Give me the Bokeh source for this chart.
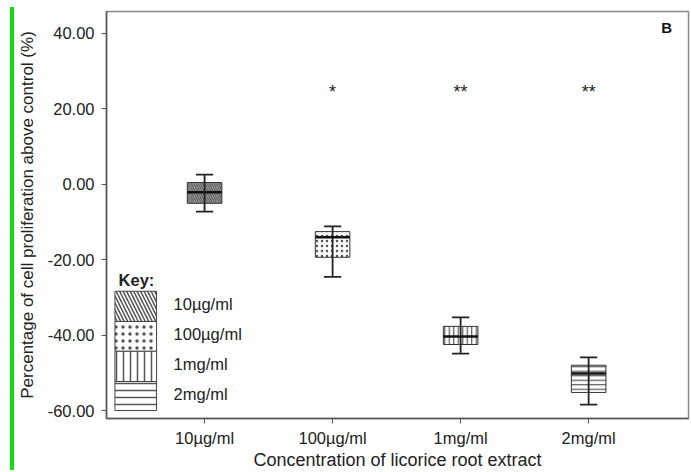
from bokeh.plotting import figure
from bokeh.models import Range1d, FixedTicker, NumeralTickFormatter, Div, ColumnDataSource
from bokeh.layouts import row
from bokeh.core.properties import value
from bokeh.embed import file_html
from bokeh.resources import INLINE

# ---- data ----
categories = ["10\u00b5g/ml", "100\u00b5g/ml", "1mg/ml", "2mg/ml"]
positions = [1, 2, 3, 4]
q1 = [-5.0, -19.3, -42.4, -55.1]
q3 = [0.5, -12.5, -37.6, -47.9]
median = [-2.1, -14.0, -40.3, -50.1]
whisker_low = [-7.2, -24.5, -44.8, -58.3]
whisker_high = [2.6, -11.1, -35.2, -45.8]
significance = ["", "*", "**", "**"]
sig_level = [24.4, 24.4, 24.4, 24.4]
hatches = ["left_diagonal_line", "dot", "vertical_line", "horizontal_line"]
y_ticks = [-60, -40, -20, 0, 20, 40]

FONT = "Liberation Sans"
TXT = "#222222"
box_w = 0.27
cap_w = 0.135

p = figure(frame_width=582, frame_height=407, output_backend="svg", toolbar_location=None,
           x_range=Range1d(0.234, 4.78), y_range=Range1d(-62, 45.8),
           min_border_left=91, min_border_right=2, min_border_top=3, min_border_bottom=50,
           margin=(8, 0, 0, 0))
p.grid.visible = False
p.outline_line_color = "#888888"
p.outline_line_width = 1.5
p.background_fill_color = "white"
p.border_fill_color = "white"

# axes
p.xaxis.ticker = FixedTicker(ticks=positions)
p.xaxis.major_label_overrides = {pos: c for pos, c in zip(positions, categories)}
p.yaxis.ticker = FixedTicker(ticks=y_ticks)
p.yaxis.formatter = NumeralTickFormatter(format="0.00")
for ax in (p.xaxis[0], p.yaxis[0]):
    ax.axis_line_color = "#555555"
    ax.axis_line_width = 1.5
    ax.major_tick_line_color = "#555555"
    ax.major_tick_in = 0
    ax.major_tick_out = 5
    ax.minor_tick_line_color = None
    ax.major_label_text_font = FONT
    ax.major_label_text_font_size = "16.5px"
    ax.major_label_text_color = TXT
    ax.axis_label_text_font = FONT
    ax.axis_label_text_font_style = "normal"
    ax.axis_label_text_color = TXT
p.xaxis.axis_label = "Concentration of licorice root extract"
p.yaxis.axis_label = "Percentage of cell proliferation above control (%)"
p.xaxis.axis_label_text_font_size = "18px"
p.yaxis.axis_label_text_font_size = "17px"
p.xaxis.major_label_standoff = 5
p.xaxis.axis_label_standoff = 0
p.yaxis.major_label_standoff = 7
p.yaxis.axis_label_standoff = 8

src = ColumnDataSource(dict(x=positions, q1=q1, q3=q3, med=median, lo=whisker_low, hi=whisker_high,
                            hatch=hatches, sig=significance, sy=sig_level,
                            bl=[x - box_w / 2 for x in positions], br=[x + box_w / 2 for x in positions],
                            cl=[x - cap_w / 2 for x in positions], cr=[x + cap_w / 2 for x in positions],
                            hs=[4.5, 5, 4.5, 4.5], hw=[1.6, 1.6, 1.2, 1.2]))

p.vbar(x="x", width=box_w, bottom="q1", top="q3", source=src, fill_color="white",
       line_color="#333333", line_width=1, hatch_pattern="hatch", hatch_color="#555555",
       hatch_scale="hs", hatch_weight="hw")
p.segment(x0="x", y0="lo", x1="x", y1="hi", source=src, line_color="#222222", line_width=1.8)
p.segment(x0="cl", y0="lo", x1="cr", y1="lo", source=src, line_color="#222222", line_width=1.8)
p.segment(x0="cl", y0="hi", x1="cr", y1="hi", source=src, line_color="#222222", line_width=1.8)
p.segment(x0="bl", y0="med", x1="br", y1="med", source=src, line_color="#111111", line_width=2.5)
p.text(x="x", y="sy", text="sig", source=src, text_align="center", text_baseline="middle",
       text_font=value(FONT), text_font_size="18px", text_color=TXT)

# panel letter
p.text(x=[4.61], y=[41.6], text=["B"], text_align="center", text_baseline="middle",
       text_font=value(FONT), text_font_size="15px", text_font_style="bold", text_color="#111111")

# key
key_left, key_right = 0.30, 0.625
key_edges = [-28.3, -36.3, -44.2, -52.2, -59.9]
key_src = ColumnDataSource(dict(left=[key_left] * 4, right=[key_right] * 4,
                                top=key_edges[:-1], bottom=key_edges[1:], hatch=hatches,
                                lx=[0.758] * 4,
                                ly=[(a + b) / 2 + 0.6 for a, b in zip(key_edges[:-1], key_edges[1:])],
                                label=categories))
p.quad(left="left", right="right", top="top", bottom="bottom", source=key_src,
       fill_color="white", line_color="#444444", line_width=1, hatch_pattern="hatch",
       hatch_color="#555555", hatch_scale=7, hatch_weight=1.5)
p.text(x="lx", y="ly", text="label", source=key_src, text_baseline="middle",
       text_font=value(FONT), text_font_size="16.5px", text_color=TXT)
p.text(x=[0.328], y=[-25.2], text=["Key:"], text_baseline="middle",
       text_font=value(FONT), text_font_size="16.5px", text_font_style="bold", text_color=TXT)

green = Div(text="", width=4, height=463, margin=(7, 0, 0, 10),
            styles={"background-color": "#11dd11"})
layout = row(green, p, spacing=0)

open("out.html", "w").write(file_html(layout, INLINE))
